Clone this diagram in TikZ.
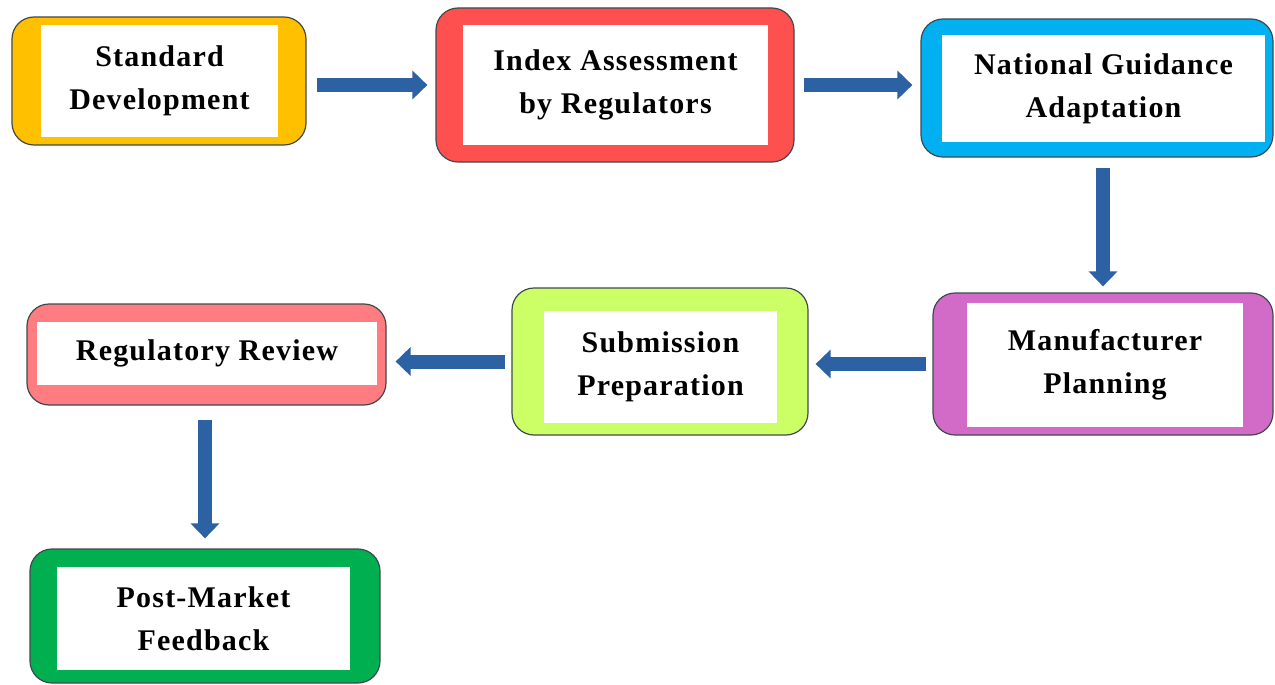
\documentclass[tikz,border=0pt]{standalone}
\usepackage{fontspec}
\setmainfont{Liberation Serif}[LetterSpace=4]
\usetikzlibrary{arrows.meta}
\definecolor{cOrange}{HTML}{FFC000}
\definecolor{cRed}{HTML}{FF5050}
\definecolor{cCyan}{HTML}{00B0F0}
\definecolor{cMag}{HTML}{D26AC8}
\definecolor{cLime}{HTML}{CCFF66}
\definecolor{cPink}{HTML}{FF7C80}
\definecolor{cGreen}{HTML}{00B050}
\definecolor{cArrow}{HTML}{2C62A3}
\definecolor{cEdge}{HTML}{3F4A4F}
\tikzset{
  outerbox/.style={draw=cEdge, line width=1.2pt, rounded corners=22pt, inner sep=0pt},
  innerbox/.style={fill=white, inner sep=0pt, align=center,
    font=\fontsize{30}{43}\selectfont\bfseries},
  flowarrow/.style={draw=cArrow, line width=14pt,
    -{Triangle[length=15pt,width=28pt]}},
}
\begin{document}
\begin{tikzpicture}[x=1pt,y=-1pt]
\path[use as bounding box] (0,0) rectangle (1275,685);
% outer frames
\node[outerbox, fill=cOrange, minimum width=294pt, minimum height=128pt] (a) at (159,81) {};
\node[outerbox, fill=cRed, minimum width=358pt, minimum height=154pt] (b) at (615,85) {};
\node[outerbox, fill=cCyan, minimum width=352pt, minimum height=138pt] (c) at (1097,88) {};
\node[outerbox, fill=cMag, minimum width=340pt, minimum height=142pt] (d) at (1103,364) {};
\node[outerbox, fill=cLime, minimum width=296pt, minimum height=147pt] (e) at (660,361.5) {};
\node[outerbox, fill=cPink, minimum width=359pt, minimum height=101pt] (f) at (206.5,354.5) {};
\node[outerbox, fill=cGreen, minimum width=350pt, minimum height=134pt] (g) at (205,616) {};
% inner white panels with labels
\node[innerbox, minimum width=237pt, minimum height=112pt] (at) at (159.5,81) {Standard\\Development};
\node[innerbox, minimum width=305pt, minimum height=120pt] (bt) at (615.5,85) {Index Assessment\\by Regulators};
\node[innerbox, minimum width=323pt, minimum height=107pt] (ct) at (1103.5,88.5) {National Guidance\\Adaptation};
\node[innerbox, minimum width=276pt, minimum height=124pt] (dt) at (1105,365) {Manufacturer\\Planning};
\node[innerbox, minimum width=233pt, minimum height=112pt] (et) at (660.5,367) {Submission\\Preparation};
\node[innerbox, minimum width=340pt, minimum height=63pt] (ft) at (207,353.5) {Regulatory Review};
\node[innerbox, minimum width=293pt, minimum height=103pt] (gt) at (203.5,618.5) {Post-Market\\Feedback};
% connectors
\draw[flowarrow, shorten <=10pt, shorten >=8pt] (a.east |- b.west) -- (b.west);
\draw[flowarrow, shorten <=9pt, shorten >=8pt] (b.east) -- (c.west |- b.east);
\draw[flowarrow, shorten <=10pt, shorten >=6pt] (c.south -| d.north) -- (d.north);
\draw[flowarrow, shorten <=6pt, shorten >=7pt] (d.west) -- (e.east |- d.west);
\draw[flowarrow, shorten <=6pt, shorten >=9pt] (e.west) -- (f.east |- e.west);
\draw[flowarrow, shorten <=14pt, shorten >=10pt] (f.south -| g.north) -- (g.north);
\end{tikzpicture}
\end{document}
